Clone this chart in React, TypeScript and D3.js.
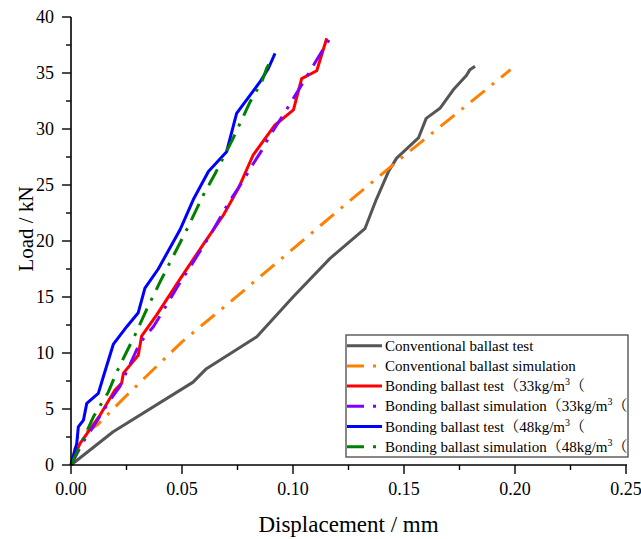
import React from "react";
import * as d3 from "d3";

const xTicks = [0, 0.05, 0.1, 0.15, 0.2, 0.25];
const xTickLabels = ["0.00", "0.05", "0.10", "0.15", "0.20", "0.25"];
const yTicks = [0, 5, 10, 15, 20, 25, 30, 35, 40];

const convTestX = [0, 0.019, 0.055, 0.061, 0.0837, 0.1, 0.1167, 0.1324, 0.1375, 0.143, 0.1467, 0.1565, 0.16, 0.1662, 0.1722, 0.1782, 0.1797, 0.182];
const convTestY = [0, 2.97, 7.4, 8.6, 11.46, 15.0, 18.45, 21.1, 23.7, 26.2, 27.4, 29.2, 30.95, 31.85, 33.5, 34.8, 35.3, 35.6];

const convSimX = [0, 0.003, 0.012, 0.025, 0.05, 0.075, 0.1, 0.125, 0.15, 0.175, 0.198];
const convSimY = [0, 2.5, 3.6, 6.2, 11.0, 15.1, 19.3, 23.5, 27.6, 31.6, 35.3];

const bond33TestX = [0, 0.0041, 0.0131, 0.0198, 0.0228, 0.0236, 0.0303, 0.0318, 0.0386, 0.0491, 0.0596, 0.0686, 0.0754, 0.0821, 0.0919, 0.1002, 0.1039, 0.1107, 0.1152];
const bond33TestY = [0, 1.94, 4.46, 6.7, 7.3, 8.2, 9.8, 11.5, 13.4, 16.6, 19.7, 22.3, 24.7, 27.7, 30.36, 31.7, 34.5, 35.2, 38.1];

const bond33SimX = [0, 0.0056, 0.01, 0.0176, 0.022, 0.031, 0.0371, 0.0416, 0.0476, 0.0566, 0.0641, 0.0709, 0.0776, 0.0821, 0.0866, 0.0889, 0.0956, 0.1047, 0.1129, 0.1167];
const bond33SimY = [0, 2.1, 3.4, 5.8, 7.0, 10.9, 12.35, 13.8, 15.8, 18.6, 21.0, 23.4, 25.4, 26.9, 28.3, 29.2, 31.25, 34.2, 36.9, 38.1];

const bond48TestX = [0, 0.0026, 0.0033, 0.0056, 0.0071, 0.0123, 0.0146, 0.0191, 0.0251, 0.0303, 0.0333, 0.0393, 0.0491, 0.0551, 0.0619, 0.0701, 0.0746, 0.0851, 0.0889, 0.0919];
const bond48TestY = [0, 1.94, 3.4, 4.0, 5.5, 6.4, 7.9, 10.8, 12.35, 13.6, 15.8, 17.5, 21.0, 23.7, 26.2, 27.97, 31.4, 34.2, 35.4, 36.75];

const bond48SimX = [0, 0.0071, 0.0101, 0.0168, 0.0206, 0.0243, 0.0288, 0.0341, 0.04, 0.0521, 0.0596, 0.0649, 0.0731, 0.0806, 0.0859, 0.0881, 0.0911];
const bond48SimY = [0, 3.0, 4.3, 6.5, 8.3, 9.8, 11.6, 13.9, 16.3, 21.0, 24.1, 26.0, 29.2, 32.4, 34.2, 35.4, 36.5];

const seriesNames = [
  "Conventional ballast test",
  "Conventional ballast simulation",
  "Bonding ballast test（33kg/m",
  "Bonding ballast simulation（33kg/m",
  "Bonding ballast test（48kg/m",
  "Bonding ballast simulation（48kg/m",
];
const seriesColors = ["#555555", "#FF8000", "#FF0000", "#8000FF", "#0000FF", "#008000"];
const seriesDashed = [false, true, false, true, false, true];
const seriesXs = [convTestX, convSimX, bond33TestX, bond33SimX, bond48TestX, bond48SimX];
const seriesYs = [convTestY, convSimY, bond33TestY, bond33SimY, bond48TestY, bond48SimY];

const FONT = '"Liberation Serif", "Times New Roman", Tinos, "DejaVu Serif", "Noto Serif CJK SC", serif';
const DASH = "18,9,3,9";
const ts = { fontFamily: FONT };

export default function App() {
  const W = 641, H = 539;
  const left = 71, right = 626, top = 17, bottom = 465;
  const x = d3.scaleLinear().domain([0, 0.25]).range([left, right]);
  const y = d3.scaleLinear().domain([0, 40]).range([bottom, top]);
  const xMinor = d3.range(0, 0.2501, 0.025);
  const yMinor = d3.range(0, 40.01, 2.5);

  const line = d3.line<[number, number]>().x((d) => x(d[0])).y((d) => y(d[1]));

  const legX = 346, legY = 335, legW = 282, legH = 122;
  const rowH = 20.2, row0 = 345.7;

  return (
    <svg width={W} height={H} style={{ position: "absolute", left: 0, top: 0, background: "#fff", fontFamily: FONT }}>
      <rect x={0} y={0} width={W} height={H} fill="#fff" />
      {seriesXs.map((xs, i) => {
        const pts = xs.map((v, j) => [v, seriesYs[i][j]] as [number, number]);
        return (
          <path
            key={i}
            d={line(pts) || ""}
            fill="none"
            stroke={seriesColors[i]}
            strokeWidth={3}
            strokeDasharray={seriesDashed[i] ? DASH : undefined}
            strokeLinejoin="round"
          />
        );
      })}
      <line x1={left} x2={right + 1} y1={bottom} y2={bottom} stroke="#000" strokeWidth={1.6} />
      <line x1={left} x2={left} y1={bottom} y2={top} stroke="#000" strokeWidth={1.6} />
      {xMinor.map((t, i) => (
        <line key={"xm" + i} x1={x(t)} x2={x(t)} y1={bottom} y2={bottom + (i % 2 === 0 ? 9 : 5)} stroke="#000" strokeWidth={1.4} />
      ))}
      {yMinor.map((t, i) => (
        <line key={"ym" + i} x1={left} x2={left - (i % 2 === 0 ? 9 : 5)} y1={y(t)} y2={y(t)} stroke="#000" strokeWidth={1.4} />
      ))}
      {xTicks.map((t, i) => (
        <text key={"xt" + i} x={x(t)} y={494.5} textAnchor="middle" fontSize={18} fill="#000" style={ts}>
          {xTickLabels[i]}
        </text>
      ))}
      {yTicks.map((t, i) => (
        <text key={"yt" + i} x={54} y={y(t) + 6} textAnchor="end" fontSize={18} fill="#000" style={ts}>
          {t}
        </text>
      ))}
      <text x={(left + right) / 2} y={532} textAnchor="middle" fontSize={23} fill="#000" style={ts}>
        Displacement / mm
      </text>
      <text transform={`translate(33, ${(top + bottom) / 2 - 12}) rotate(-90)`} textAnchor="middle" fontSize={21} fill="#000" style={ts}>
        Load / kN
      </text>
      <rect x={legX} y={legY} width={legW} height={legH} fill="#fff" stroke="#555" strokeWidth={1.4} />
      {seriesNames.map((name, i) => {
        const cy = row0 + i * rowH;
        return (
          <g key={"lg" + i}>
            <line
              x1={347}
              x2={382}
              y1={cy}
              y2={cy}
              stroke={seriesColors[i]}
              strokeWidth={3}
              strokeDasharray={seriesDashed[i] ? "17,9,3,9" : undefined}
            />
            <text x={385} y={cy + 5} fontSize={15} fill="#000" style={ts}>
              {name}
              {i >= 2 ? (
                <>
                  <tspan dy={-6} fontSize={10}>3</tspan>
                  <tspan dy={6}>（</tspan>
                </>
              ) : null}
            </text>
          </g>
        );
      })}
    </svg>
  );
}
